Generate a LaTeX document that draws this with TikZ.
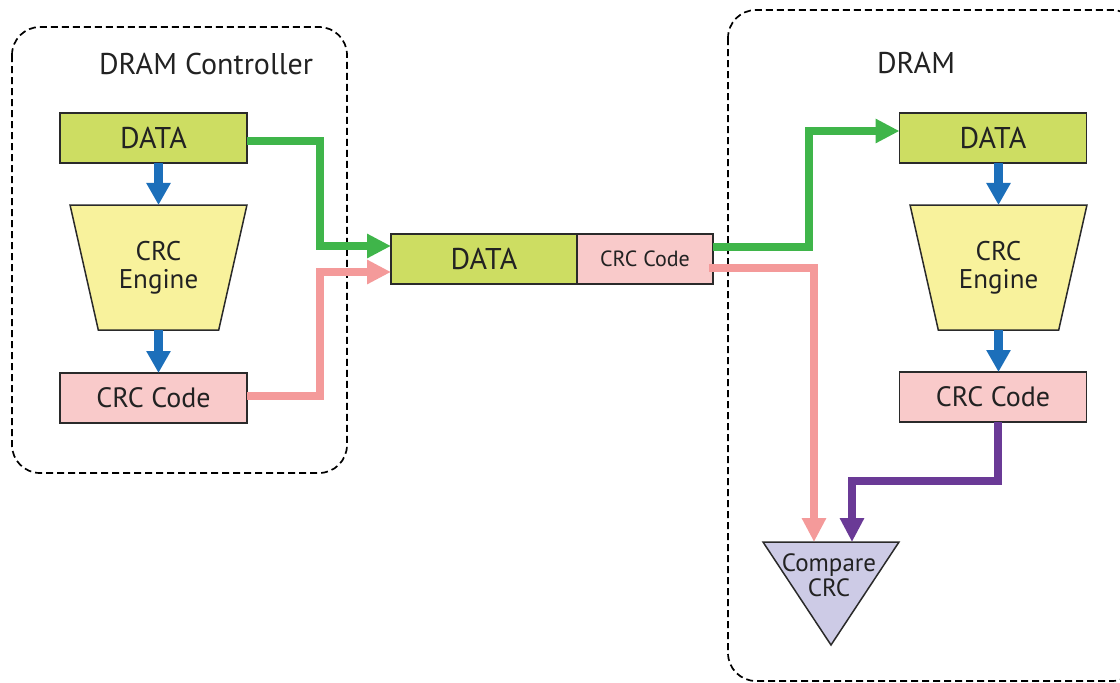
\documentclass[tikz,border=0pt]{standalone}
\usepackage{fontspec}
\setmainfont{PT Sans}
\usetikzlibrary{arrows.meta,shapes.geometric}
\definecolor{datagreen}{HTML}{CDDD62}
\definecolor{codepink}{HTML}{F9CACA}
\definecolor{engyellow}{HTML}{F8F29C}
\definecolor{cmplav}{HTML}{CDCBE6}
\definecolor{arrgreen}{HTML}{3FB54A}
\definecolor{arrpink}{HTML}{F49A9A}
\definecolor{arrblue}{HTML}{1C6FBA}
\definecolor{arrpurple}{HTML}{6A3A96}
\definecolor{edge}{HTML}{2A2A2A}
\definecolor{txt}{HTML}{222222}
\begin{document}
\begin{tikzpicture}[x=1pt,y=-1pt,
  every node/.style={text=txt,inner sep=0pt,outer sep=0pt},
  boxbase/.style={draw=edge,line width=1.5pt,minimum height=50pt,align=center},
  databox/.style={boxbase,fill=datagreen,minimum width=187pt,font=\fontsize{30}{32}\selectfont},
  codebox/.style={boxbase,fill=codepink,minimum width=187pt,font=\fontsize{28}{30}\selectfont},
  engbox/.style={trapezium,draw=edge,line width=1.5pt,fill=engyellow,shape border rotate=180,
    trapezium stretches=true,trapezium left angle=70.6,trapezium right angle=70.6,
    minimum width=177pt,minimum height=125pt,align=center,
    font=\fontsize{27}{28}\selectfont},
  groupbox/.style={draw=black,line width=1.7pt,dash pattern=on 7pt off 4pt,rounded corners=28pt},
  grouplabel/.style={font=\fontsize{30}{32}\selectfont},
  greenarrow/.style={draw=arrgreen,line width=8pt,-{Triangle[length=24pt,width=23pt]}},
  pinkarrow/.style={draw=arrpink,line width=8pt,-{Triangle[length=24pt,width=23pt]}},
  purplearrow/.style={draw=arrpurple,line width=8pt,-{Triangle[length=24pt,width=23pt]}},
  bluearrow/.style={draw=arrblue,line width=9pt,-{Triangle[length=22pt,width=23pt]}}
]
\useasboundingbox (0,0) rectangle (1120,683);
% group boxes
\draw[groupbox] (12,27) rectangle (347,473);
\draw[groupbox] (728,10) rectangle (1140,681);
\node[grouplabel] (ctrlLabel) at (206,64) {DRAM Controller};
\node[grouplabel] (dramLabel) at (916,63) {DRAM};
% left column
\node[databox] (dataL) at (153.5,138) {DATA};
\node[engbox] (engL) at (158.5,267.5) {CRC\\Engine};
\node[codebox] (crcL) at (153.5,398) {CRC Code};
% middle packet
\node[databox,minimum width=186pt] (dataM) at (484,259) {DATA};
\node[boxbase,fill=codepink,minimum width=136pt,font=\fontsize{22}{24}\selectfont] (crcM) at (645,259) {CRC Code};
% right column
\node[databox] (dataR) at (993,138) {DATA};
\node[engbox] (engR) at (998.5,267.5) {CRC\\Engine};
\node[codebox] (crcR) at (993,397) {CRC Code};
% compare triangle
\coordinate (cmpA) at (763,542);
\coordinate (cmpB) at (899,542);
\coordinate (cmpC) at (831,645);
\draw[draw=edge,line width=1.5pt,fill=cmplav] (cmpA) -- (cmpB) -- (cmpC) -- cycle;
\node[align=center,font=\fontsize{25}{25}\selectfont] (cmp) at (829,575) {Compare\\CRC};
\coordinate (cmpPink) at (814,542);
\coordinate (cmpPurple) at (852,542);
% blue arrows
\draw[bluearrow] (engL.north |- dataL.south) -- (engL.north);
\draw[bluearrow] (engL.south) -- (engL.south |- crcL.north);
\draw[bluearrow] (engR.north |- dataR.south) -- (engR.north);
\draw[bluearrow] (engR.south) -- (engR.south |- crcR.north);
% transfer arrows
\draw[greenarrow] ([yshift=-3pt]dataL.east) -- ++(73,0) |- ([yshift=13pt]dataM.west);
\draw[pinkarrow] ([yshift=2pt]crcL.east) -- ++(73,0) |- ([yshift=-13pt]dataM.west);
\draw[greenarrow] ([yshift=12pt]crcM.east) -- ++(96,0) |- ([yshift=7pt]dataR.west);
\draw[pinkarrow] ([xshift=-4pt,yshift=-9pt]crcM.east) -- (cmpPink |- 0,268) -- (cmpPink);
\draw[purplearrow] (crcR.south -| 998,0) -- (998,481) -| (cmpPurple);
\end{tikzpicture}
\end{document}
